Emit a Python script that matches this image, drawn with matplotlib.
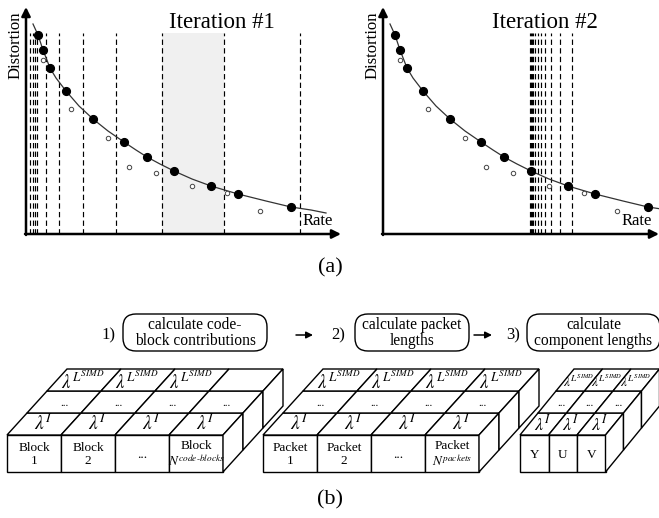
import matplotlib
matplotlib.use("Agg")
import matplotlib.pyplot as plt
from matplotlib.patches import Polygon, Rectangle, FancyBboxPatch

plt.rcParams["font.family"] = ["Liberation Serif", "DejaVu Serif"]
plt.rcParams["mathtext.fontset"] = "stix"

W, H = 659, 518

# rate-distortion points (rate / distortion in picture units, origin at the axes corner)
hull_rate = [12, 17, 24, 40, 67, 98, 121, 148, 185, 212, 265]
hull_dist = [199, 184, 166, 143, 115, 92, 77, 63, 48, 40, 27]
other_rate = [17, 45, 82, 103, 130, 166, 201, 234]
other_dist = [174.5, 125, 96, 67, 61, 48, 41, 23.5]
curve_rate = [7, 12, 17, 24, 30, 40, 53, 67, 82, 98, 110, 121, 134, 148, 166, 185,
              212, 240, 265, 285, 300]
curve_dist = [210, 199, 184, 166, 156, 143, 128, 115, 103, 92, 84, 77, 70, 63, 55, 48,
              40, 33, 27, 24, 21]
lambda_iter1 = [4, 7, 9, 11, 20, 33, 57, 90, 136, 198, 274]
lambda_iter2 = [147, 148, 149, 150, 152, 155, 158, 162, 168, 177, 189]
shade_iter1 = (136, 198)
titles = ["Iteration #1", "Iteration #2"]

# pipeline steps and lambda tables
steps = ["calculate code-\nblock contributions", "calculate packet\nlengths",
         "calculate\ncomponent lengths"]
step_nums = ["1)", "2)", "3)"]
block_labels = ["Block\n1", "Block\n2", "...", "Block\n$N^{code\\text{-}blocks}$"]
packet_labels = ["Packet\n1", "Packet\n2", "...", "Packet\n$N^{packets}$"]
comp_labels = ["Y", "U", "V"]
lam_first = r"$\lambda^{I}$"
lam_last = r"$\lambda^{L^{SIMD}}$"

fig = plt.figure(figsize=(W / 100, H / 100), dpi=100)

# full-figure canvas for the diagram part
cv = fig.add_axes([0, 0, 1, 1])
cv.set_xlim(0, W)
cv.set_ylim(H, 0)
cv.axis("off")


def rd_panel(ox, oy, xmax, ymax, dashes, title, title_x, shade=None):
    ax = fig.add_axes([ox / W, 1 - oy / H, xmax / W, ymax / H])
    ax.set_xlim(0, xmax)
    ax.set_ylim(0, ymax)
    ax.axis("off")
    if shade:
        ax.fill_between(shade, 0, 201, color="#f0f0f0", zorder=0, lw=0)
    ax.vlines(dashes, 0, 201, colors="black", linestyles=(0, (4.5, 2.8)), lw=0.85, zorder=1)
    ax.plot(curve_rate, curve_dist, color="#333333", lw=0.9, zorder=2)
    ax.plot(hull_rate, hull_dist, "o", ms=5.6, color="black", zorder=3)
    ax.plot(other_rate, other_dist, "o", ms=3.2, mfc="white", mec="#444444", mew=0.7, zorder=3)
    arrow = dict(arrowstyle="-|>", lw=1.8, color="black", mutation_scale=13, shrinkA=0, shrinkB=0)
    ax.annotate("", xy=(xmax, 0), xytext=(-1, 0), arrowprops=arrow, annotation_clip=False)
    ax.annotate("", xy=(0, ymax), xytext=(0, -1), arrowprops=arrow, annotation_clip=False)
    ax.text(title_x, 211, title, fontsize=16.5, ha="center", va="center")
    ax.text(-10, 189, "Distortion", fontsize=12, rotation=90, ha="center", va="center")
    return ax


ax1 = rd_panel(26, 234, 315, 227, lambda_iter1, titles[0], 196, shade_iter1)
ax1.text(292, 13, "Rate", fontsize=12, ha="center", va="center")
ax2 = rd_panel(383, 234, 276, 227, lambda_iter2, titles[1], 162)
ax2.text(254, 13, "Rate", fontsize=12, ha="center", va="center")

cv.text(330, 268, "(a)", fontsize=16, ha="center", va="center")
cv.text(330, 500, "(b)", fontsize=16, ha="center", va="center")

# step boxes
boxes = [(123, 267), (355, 469), (527, 660)]
num_x = [108, 338, 513]
for (x0, x1), txt, nx, num in zip(boxes, steps, num_x, step_nums):
    cv.add_patch(FancyBboxPatch((x0, 314), x1 - x0, 37,
                                boxstyle="round,pad=0,rounding_size=13",
                                fc="white", ec="black", lw=1.0))
    cv.text((x0 + x1) / 2, 333, txt, fontsize=11.2, ha="center", va="center",
            linespacing=1.05)
    cv.text(nx, 335, num, fontsize=12, ha="center", va="center")
for xa, xb in [(296, 313), (474, 492)]:
    cv.annotate("", xy=(xb, 335), xytext=(xa, 335),
                arrowprops=dict(arrowstyle="-|>", lw=1.1, color="black",
                                mutation_scale=10, shrinkA=0, shrinkB=0))


def block(x0, n, w, dx, front, back_count, lam_fs, lam_last_fs, front_fs):
    y0, h, dy = 435, 37, 22
    kw = dict(fc="white", ec="black", lw=1.0)
    for j in range(n):
        cv.add_patch(Rectangle((x0 + j * w, y0), w, h, **kw))
        cv.text(x0 + (j + 0.5) * w, y0 + h / 2 + 1, front[j], fontsize=front_fs,
                ha="center", va="center", linespacing=1.15)
    for k in range(3):
        for j in range(n):
            pts = [(x0 + j * w + k * dx, y0 - k * dy),
                   (x0 + (j + 1) * w + k * dx, y0 - k * dy),
                   (x0 + (j + 1) * w + (k + 1) * dx, y0 - (k + 1) * dy),
                   (x0 + j * w + (k + 1) * dx, y0 - (k + 1) * dy)]
            cv.add_patch(Polygon(pts, closed=True, **kw))
            cx = x0 + (j + 0.5) * w + (k + 0.5) * dx
            cy = y0 - (k + 0.5) * dy
            if k == 0:
                cv.text(cx - 1, cy, lam_first, fontsize=lam_fs, ha="center", va="center")
            elif k == 1:
                cv.text(cx, cy + 4, "...", fontsize=8, ha="center", va="baseline")
            elif j < back_count:
                cv.text(cx - 1, cy + 1.5, lam_last, fontsize=lam_last_fs, ha="center", va="center")
    xr = x0 + n * w
    for k in range(3):
        pts = [(xr + k * dx, y0 - k * dy), (xr + (k + 1) * dx, y0 - (k + 1) * dy),
               (xr + (k + 1) * dx, y0 + h - (k + 1) * dy), (xr + k * dx, y0 + h - k * dy)]
        cv.add_patch(Polygon(pts, closed=True, **kw))


block(7, 4, 54, 20, block_labels, 3, 14, 13.5, 9.5)
block(263, 4, 54, 20, packet_labels, 4, 14, 13.5, 9.5)
block(520, 3, 28.5, 18, comp_labels, 3, 13, 9.5, 9.5)

fig.savefig("out.png", dpi=100)
